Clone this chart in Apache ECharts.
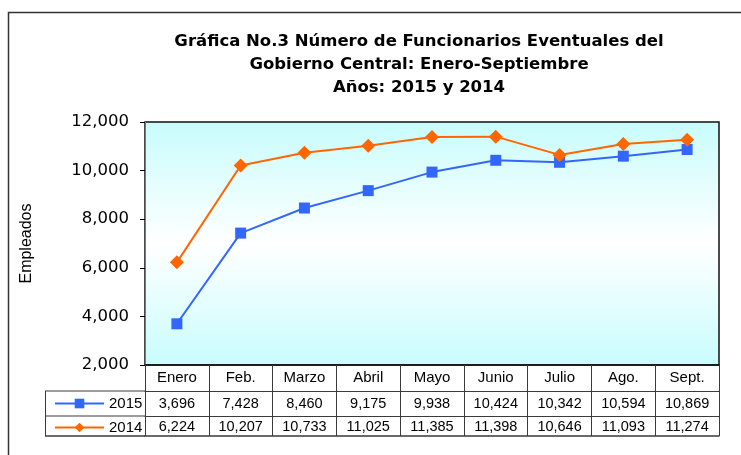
<!DOCTYPE html>
<html>
<head>
<meta charset="utf-8">
<script src="https://cdn.jsdelivr.net/npm/echarts@6/dist/echarts.min.js"></script>
<style>html,body{margin:0;padding:0;background:#fff}#c{width:741px;height:455px}</style>
</head>
<body>
<div id="c"></div>
<script>
var categories = ['Enero', 'Feb.', 'Marzo', 'Abril', 'Mayo', 'Junio', 'Julio', 'Ago.', 'Sept.'];
var values2015 = [3696, 7428, 8460, 9175, 9938, 10424, 10342, 10594, 10869];
var values2014 = [6224, 10207, 10733, 11025, 11385, 11398, 10646, 11093, 11274];
var seriesNames = ['2015', '2014'];
var titleText = 'Gráfica No.3 Número de Funcionarios Eventuales del\nGobierno Central: Enero-Septiembre\nAños: 2015 y 2014';
var yAxisName = 'Empleados';
var yTicks = { min: 2000, max: 12000, interval: 2000 };

function fmt(v) { return v.toLocaleString('en-US'); }

var chart = echarts.init(document.getElementById('c'));
var tableLine = '#3a3a3a';
var gridL = 145, gridR = 22, gridT = 122, gridB = 90;

var option = {
  animation: false,
  title: {
    text: titleText,
    left: 414, top: 25, textAlign: 'center',
    textStyle: { fontFamily: 'DejaVu Sans', fontWeight: 'bold', fontSize: 16.5, lineHeight: 23, color: '#000' }
  },
  legend: {
    orient: 'vertical', left: 49, top: 391,
    itemWidth: 49, itemHeight: 12, itemGap: 9,
    textStyle: { fontFamily: 'Liberation Sans', fontSize: 15, color: '#000', lineHeight: 12 },
    data: seriesNames
  },
  grid: {
    left: gridL, right: gridR, top: gridT, bottom: gridB,
    show: true, borderColor: '#111', borderWidth: 1.5,
    backgroundColor: {
      type: 'linear', x: 0, y: 0, x2: 0, y2: 1,
      colorStops: [
        { offset: 0, color: '#c8fcfc' },
        { offset: 0.5, color: '#ffffff' },
        { offset: 1, color: '#c8fcfc' }
      ]
    }
  },
  xAxis: [
    {
      type: 'category', data: categories, position: 'bottom', offset: 0, boundaryGap: true,
      axisLine: { show: true, lineStyle: { color: '#111', width: 1.5 } },
      axisTick: { show: true, interval: 0, length: 71, lineStyle: { color: tableLine, width: 1 } },
      axisLabel: { interval: 0, margin: 5, fontFamily: 'Liberation Sans', fontSize: 15, color: '#000' }
    },
    {
      type: 'category', data: values2015.map(fmt), position: 'bottom', offset: 26,
      axisLine: { show: true, lineStyle: { color: tableLine, width: 1 } },
      axisTick: { show: false },
      axisLabel: { interval: 0, margin: 5, fontFamily: 'Liberation Sans', fontSize: 14.5, color: '#000' }
    },
    {
      type: 'category', data: values2014.map(fmt), position: 'bottom', offset: 51,
      axisLine: { show: true, lineStyle: { color: tableLine, width: 1 } },
      axisTick: { show: false },
      axisLabel: { interval: 0, margin: 3, fontFamily: 'Liberation Sans', fontSize: 14.5, color: '#000' }
    },
    {
      type: 'category', data: categories, position: 'bottom', offset: 71,
      axisLine: { show: true, lineStyle: { color: tableLine, width: 1.5 } },
      axisTick: { show: false },
      axisLabel: { show: false }
    }
  ],
  yAxis: {
    type: 'value', min: yTicks.min, max: yTicks.max, interval: yTicks.interval,
    name: yAxisName, nameLocation: 'middle', nameGap: 110, nameRotate: 90,
    nameTextStyle: { fontFamily: 'Liberation Sans', fontSize: 16, color: '#000' },
    axisLine: { show: true, lineStyle: { color: '#777', width: 1 } },
    axisTick: { show: true, length: 5, lineStyle: { color: '#000' } },
    splitLine: { show: false },
    axisLabel: {
      margin: 16, fontFamily: 'DejaVu Sans', fontSize: 16.5, color: '#000',
      formatter: function (v) { return fmt(v); }
    }
  },
  series: [
    {
      name: seriesNames[0], type: 'line', data: values2015, xAxisIndex: 0,
      symbol: 'rect', symbolSize: 11,
      lineStyle: { color: '#3366ff', width: 2 },
      itemStyle: { color: '#3366ff' }
    },
    {
      name: seriesNames[1], type: 'line', data: values2014, xAxisIndex: 0,
      symbol: 'diamond', symbolSize: 14,
      lineStyle: { color: '#ff6600', width: 2 },
      itemStyle: { color: '#ff6600' }
    }
  ],
  graphic: [
    { type: 'rect', shape: { x: 8.5, y: 12.5, width: 900, height: 600 }, style: { fill: null, stroke: '#333', lineWidth: 1.5 }, silent: true, z: -1 },
    { type: 'line', shape: { x1: 45, y1: 391, x2: 145, y2: 391 }, style: { stroke: tableLine, lineWidth: 1 } },
    { type: 'line', shape: { x1: 45, y1: 416, x2: 145, y2: 416 }, style: { stroke: tableLine, lineWidth: 1 } },
    { type: 'line', shape: { x1: 45, y1: 436, x2: 145, y2: 436 }, style: { stroke: tableLine, lineWidth: 1.5 } },
    { type: 'line', shape: { x1: 45.5, y1: 391, x2: 45.5, y2: 436 }, style: { stroke: tableLine, lineWidth: 1 } }
  ]
};
chart.setOption(option);
</script>
</body>
</html>
